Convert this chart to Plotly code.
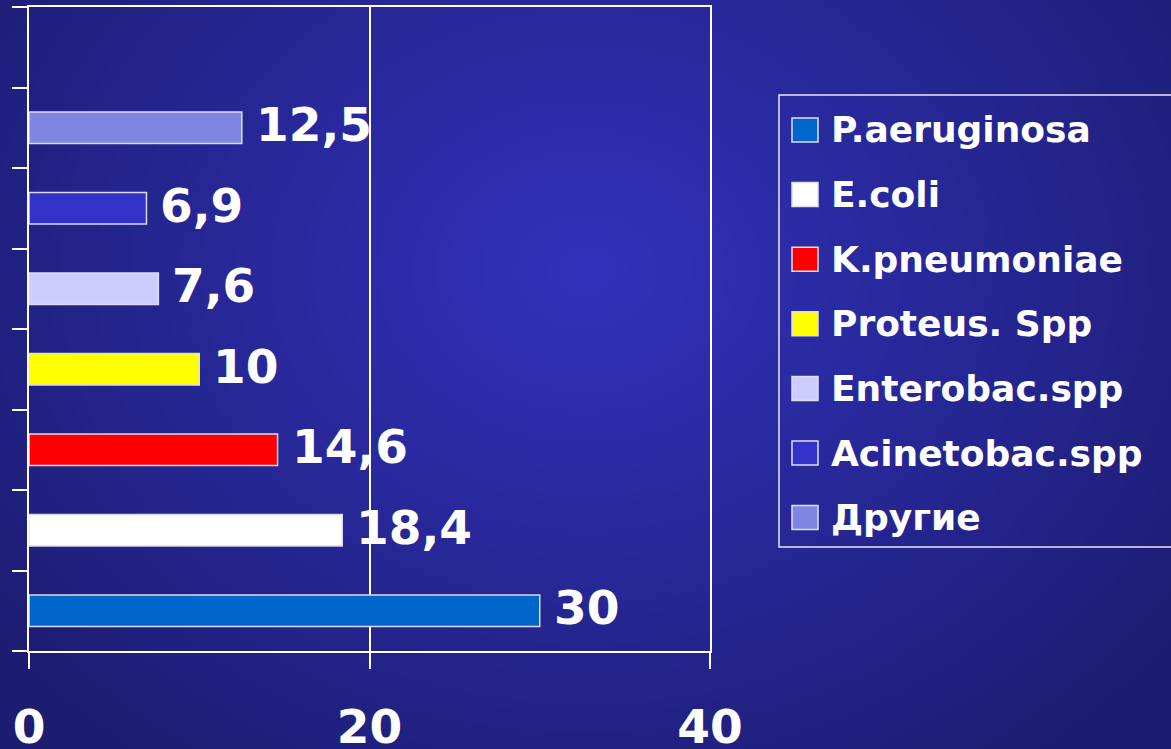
import base64
import struct
import zlib

import numpy as np
import plotly.graph_objects as go

# ---- data -------------------------------------------------------------
organisms = ["P.aeruginosa", "E.coli", "K.pneumoniae", "Proteus. Spp",
             "Enterobac.spp", "Acinetobac.spp", "Другие"]
shares = [30, 18.4, 14.6, 10, 7.6, 6.9, 12.5]
bar_colors = ["#0066CC", "#FFFFFF", "#FF0000", "#FFFF00",
              "#CCCCFF", "#3333CC", "#7F86E2"]
x_ticks = [0, 20, 40]

W, H = 1171, 749
FONT = "DejaVu Sans"


def px_x(px):
    return px / W


def px_y(py):
    return 1 - py / H


def fmt(v):
    return f"{v:g}".replace(".", ",")


# ---- radial blue background as an inline PNG ---------------------------
def gradient_png(w, h):
    yy, xx = np.mgrid[0:h, 0:w].astype(float)
    cx, cy = 0.50 * w, 0.36 * h
    d = np.sqrt(((xx - cx) / (0.66 * w)) ** 2 + ((yy - cy) / (0.85 * h)) ** 2)
    t = np.clip(d, 0, 1)[..., None]
    inner = np.array([50, 50, 188], float)
    outer = np.array([28, 28, 112], float)
    rgb = (inner + (outer - inner) * t).astype(np.uint8)
    raw = b"".join(b"\x00" + rgb[r].tobytes() for r in range(h))

    def chunk(tag, data):
        body = tag + data
        return struct.pack(">I", len(data)) + body + struct.pack(">I", zlib.crc32(body) & 0xFFFFFFFF)

    png = (b"\x89PNG\r\n\x1a\n"
           + chunk(b"IHDR", struct.pack(">IIBBBBB", w, h, 8, 2, 0, 0, 0))
           + chunk(b"IDAT", zlib.compress(raw, 9))
           + chunk(b"IEND", b""))
    return "data:image/png;base64," + base64.b64encode(png).decode()


fig = go.Figure()

# one bar trace per organism, each in its own row slot
for i, (name, val, col) in enumerate(zip(organisms, shares, bar_colors)):
    fig.add_trace(go.Bar(
        x=[val], y=[i + 0.5], orientation="h", width=0.39, name=name,
        marker=dict(color=col, line=dict(color="#DCDCEC", width=1.5)),
        showlegend=False,
    ))

annotations = []
for i, val in enumerate(shares):
    annotations.append(dict(
        x=val, y=i + 0.5, xref="x", yref="y", text=fmt(val),
        xanchor="left", yanchor="middle", xshift=12, yshift=3, showarrow=False,
        font=dict(family=FONT, size=47, color="white", weight="bold"),
    ))

# hand-drawn legend panel
shapes = [dict(type="rect", xref="paper", yref="paper",
               x0=px_x(779), x1=px_x(1190), y0=px_y(547), y1=px_y(95),
               line=dict(color="#E8E8F0", width=1.5), fillcolor="rgba(0,0,0,0)")]
for i, (name, col) in enumerate(zip(organisms, bar_colors)):
    cy = 130 + 64.6 * i
    shapes.append(dict(type="rect", xref="paper", yref="paper",
                       x0=px_x(792), x1=px_x(818), y0=px_y(cy + 12), y1=px_y(cy - 12),
                       line=dict(color="#E0E0EC", width=1.5), fillcolor=col))
    annotations.append(dict(
        x=px_x(829), y=px_y(cy), xref="paper", yref="paper", text=name,
        xanchor="left", yanchor="middle", showarrow=False,
        font=dict(family=FONT, size=36, color="white", weight="bold"),
    ))

fig.update_layout(
    width=W, height=H,
    margin=dict(l=0, r=0, t=0, b=0, autoexpand=False),
    paper_bgcolor="#1E1E78",
    plot_bgcolor="rgba(0,0,0,0)",
    barmode="overlay",
    showlegend=False,
    images=[dict(source=gradient_png(586, 375), xref="paper", yref="paper",
                 x=0, y=1, sizex=1, sizey=1, sizing="stretch",
                 xanchor="left", yanchor="top", layer="below")],
    shapes=shapes,
    annotations=annotations,
    xaxis=dict(
        domain=[px_x(29), px_x(710)], range=[0, 40], tickvals=x_ticks,
        ticktext=[str(t) for t in x_ticks],
        showgrid=True, gridcolor="white", gridwidth=1.5, zeroline=False,
        showline=True, linecolor="white", linewidth=2, mirror=True,
        ticks="outside", ticklen=16, tickwidth=1.5, tickcolor="white",
        ticklabelstandoff=18,
        tickfont=dict(family=FONT, size=47, color="white", weight="bold"),
    ),
    yaxis=dict(
        domain=[px_y(651), px_y(7)], range=[0, 8], tickvals=list(range(9)),
        showgrid=False, zeroline=False, showticklabels=False,
        showline=True, linecolor="white", linewidth=2, mirror=True,
        ticks="outside", ticklen=15, tickwidth=1.5, tickcolor="white",
    ),
)

fig.write_html("out.html")
